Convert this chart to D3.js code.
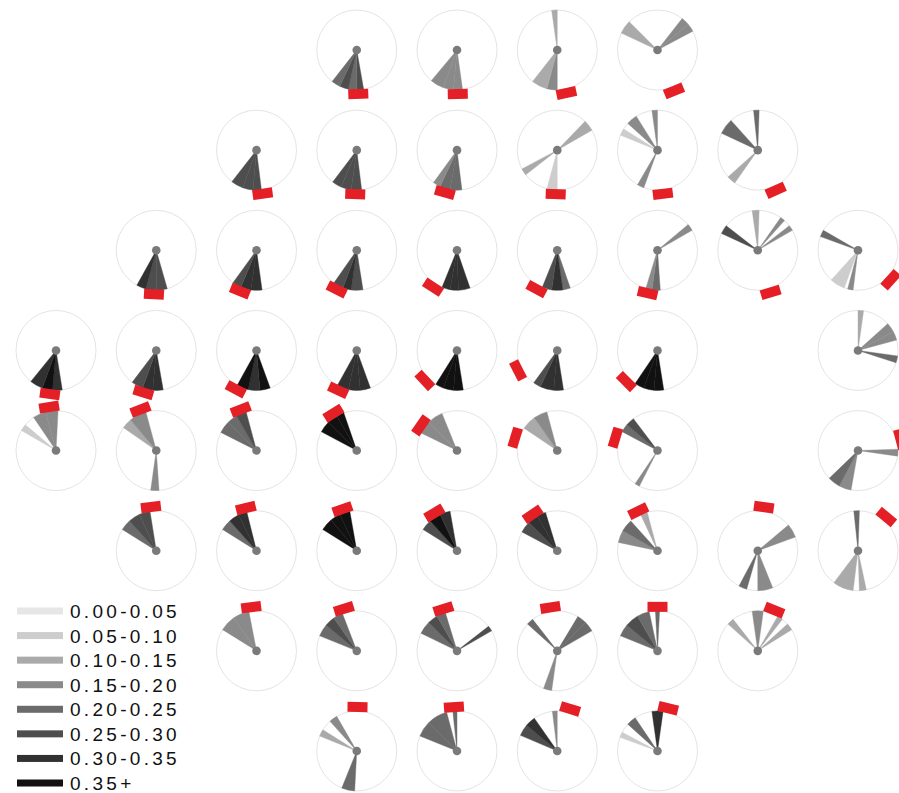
<!DOCTYPE html>
<html>
<head>
<meta charset="utf-8">
<title>Rose grid</title>
<script src="https://d3js.org/d3.v7.min.js"></script>
<style>
  body { margin: 0; background: #fff; }
  text { font-family: "Liberation Sans", Arial, sans-serif; }
</style>
</head>
<body>
<div id="chart"></div>
<script>
// grid position of every rose, the direction of its red marker (degrees, clockwise from north)
var cellRow = [0,0,0,0, 1,1,1,1,1,1, 2,2,2,2,2,2,2,2, 3,3,3,3,3,3,3,3, 4,4,4,4,4,4,4,4, 5,5,5,5,5,5,5,5, 6,6,6,6,6,6, 7,7,7,7];
var cellCol = [3,4,5,6, 2,3,4,5,6,7, 1,2,3,4,5,6,7,8, 0,1,2,3,4,5,6,8, 0,1,2,3,4,5,6,8, 1,2,3,4,5,6,7,8, 2,3,4,5,6,7, 3,4,5,6];
var markerAngle = [178,179,168,158, 172,182,196,182,173,156, 183,202,207,213,208,193,163,132,
  188,197,208,205,227,243,225,null, 351,339,339,328,305,287,287,75,
  353,346,341,329,326,334,8,40, 353,343,342,351,0,22, 1,356,17,14];

// wedges of each rose: [fromDeg, toDeg, value]
var cellFans = [
  [[170,180,0.27],[180,192,0.22],[192,205,0.26],[205,218,0.24]],
  [[172,185,0.17],[185,200,0.19],[200,220,0.16]],
  [[352,360,0.13],[180,195,0.16],[195,218,0.14]],
  [[295,315,0.14],[38,50,0.17],[50,62,0.15]],

  [[173,185,0.29],[185,200,0.26],[200,218,0.28]],
  [[173,188,0.27],[188,203,0.25],[203,217,0.27]],
  [[173,190,0.22],[190,205,0.20],[205,216,0.18]],
  [[44,60,0.12],[232,242,0.12],[180,195,0.09]],
  [[352,360,0.15],[312,328,0.17],[292,302,0.08],[200,210,0.19]],
  [[354,362,0.20],[295,318,0.22],[215,228,0.10]],

  [[164,180,0.29],[180,195,0.26],[195,209,0.30]],
  [[172,188,0.32],[188,203,0.30],[203,216,0.28]],
  [[171,188,0.28],[188,200,0.30],[200,215,0.27]],
  [[161,178,0.30],[178,190,0.33],[190,202,0.31]],
  [[161,172,0.22],[172,188,0.30],[188,202,0.27]],
  [[50,60,0.17],[176,188,0.20],[188,197,0.18]],
  [[352,362,0.14],[295,308,0.25],[35,42,0.15],[52,60,0.16]],
  [[290,300,0.20],[200,222,0.08],[187,195,0.19]],

  [[171,185,0.34],[185,200,0.36],[200,219,0.32]],
  [[170,185,0.30],[185,200,0.32],[200,217,0.29]],
  [[160,175,0.36],[175,192,0.34],[192,209,0.37]],
  [[160,175,0.32],[175,192,0.30],[192,209,0.33]],
  [[171,185,0.37],[185,200,0.36],[200,212,0.38]],
  [[171,185,0.32],[185,205,0.31],[205,216,0.26]],
  [[171,185,0.37],[185,200,0.38],[200,214,0.36]],
  [[0,8,0.10],[48,62,0.17],[62,75,0.15],[98,108,0.24]],

  [[326,345,0.16],[345,363,0.18],[300,310,0.08]],
  [[305,320,0.14],[320,345,0.18],[176,188,0.16]],
  [[297,315,0.20],[315,330,0.23],[330,345,0.25]],
  [[298,315,0.36],[315,330,0.37],[330,341,0.35]],
  [[296,315,0.15],[315,338,0.17]],
  [[304,325,0.14],[325,345,0.15]],
  [[298,310,0.24],[310,323,0.29],[207,214,0.19]],
  [[88,98,0.16],[190,208,0.19],[208,226,0.20]],

  [[302,318,0.21],[318,335,0.27],[335,351,0.29]],
  [[302,318,0.24],[318,333,0.30],[333,346,0.31]],
  [[302,320,0.36],[320,335,0.37],[335,350,0.38]],
  [[302,318,0.28],[318,335,0.36],[335,350,0.34]],
  [[298,315,0.27],[315,330,0.31],[330,343,0.32]],
  [[282,300,0.16],[300,318,0.23],[335,345,0.10]],
  [[50,70,0.19],[196,208,0.20],[158,180,0.17]],
  [[354,362,0.20],[187,217,0.12],[168,178,0.10]],

  [[302,325,0.15],[325,349,0.17]],
  [[292,310,0.22],[310,325,0.25],[325,339,0.21]],
  [[296,315,0.22],[315,330,0.25],[330,343,0.20],[52,60,0.26]],
  [[312,322,0.20],[31,45,0.22],[45,60,0.20],[188,200,0.19]],
  [[292,310,0.22],[310,330,0.25],[330,348,0.23],[357,363,0.20]],
  [[312,322,0.10],[352,368,0.17],[30,38,0.12],[48,58,0.14]],

  [[318,330,0.15],[292,302,0.10],[183,202,0.24]],
  [[292,315,0.22],[315,345,0.24],[354,360,0.20]],
  [[293,310,0.27],[310,325,0.30],[353,360,0.16]],
  [[290,298,0.05],[312,326,0.20],[352,368,0.30]]
];

// legend bins
var binLabels = ["0.00-0.05","0.05-0.10","0.10-0.15","0.15-0.20","0.20-0.25","0.25-0.30","0.30-0.35","0.35+"];
var binBreaks = [0.05,0.10,0.15,0.20,0.25,0.30,0.35];
var binColors = ["#e6e6e6","#cdcdcd","#aaaaaa","#8a8a8a","#6b6b6b","#4e4e4e","#313131","#111111"];

var width = 899, height = 793;
var radius = 40;

var svg = d3.select("#chart").append("svg")
    .attr("width", width)
    .attr("height", height);

var x = d3.scaleLinear().domain([0, 8]).range([56, 858]);
var y = d3.scaleLinear().domain([0, 7]).range([50, 751]);
var color = d3.scaleThreshold().domain(binBreaks).range(binColors);
var rad = Math.PI / 180;

var arc = d3.arc()
    .innerRadius(0)
    .outerRadius(radius)
    .startAngle(function(d) { return d[0] * rad; })
    .endAngle(function(d) { return d[1] * rad; });

var cells = svg.selectAll("g.cell")
  .data(cellRow.map(function(r, i) { return i; }))
  .enter().append("g")
    .attr("class", "cell")
    .attr("transform", function(i) {
      return "translate(" + x(cellCol[i]) + "," + y(cellRow[i]) + ")";
    });

cells.append("circle")
    .attr("r", radius)
    .attr("fill", "none")
    .attr("stroke", "#e4e4e4")
    .attr("stroke-width", 1);

cells.selectAll("path.fan")
  .data(function(i) { return cellFans[i]; })
  .enter().append("path")
    .attr("class", "fan")
    .attr("d", arc)
    .attr("fill", function(d) { return color(d[2]); })
    .attr("stroke", function(d) { return color(d[2]); })
    .attr("stroke-width", 0.4);

cells.append("circle")
    .attr("r", 4.3)
    .attr("fill", "#7a7a7a");

// red direction markers
cells.filter(function(i) { return markerAngle[i] !== null; })
  .append("rect")
    .attr("x", -10)
    .attr("y", -radius - 9)
    .attr("width", 20)
    .attr("height", 10)
    .attr("fill", "#e41f26")
    .attr("transform", function(i) { return "rotate(" + markerAngle[i] + ")"; });

// legend
var legend = svg.append("g").attr("class", "legend");
var ly = d3.scaleLinear().domain([0, 7]).range([611, 783]);

legend.selectAll("rect")
  .data(binLabels)
  .enter().append("rect")
    .attr("x", 17)
    .attr("y", function(d, i) { return ly(i) - 3.5; })
    .attr("width", 46)
    .attr("height", 7)
    .attr("fill", function(d, i) { return binColors[i]; });

legend.selectAll("text")
  .data(binLabels)
  .enter().append("text")
    .attr("x", 70)
    .attr("y", function(d, i) { return ly(i) + 7; })
    .attr("font-size", 19)
    .attr("letter-spacing", "3.3px")
    .attr("fill", "#111")
    .text(function(d) { return d; });
</script>
</body>
</html>
